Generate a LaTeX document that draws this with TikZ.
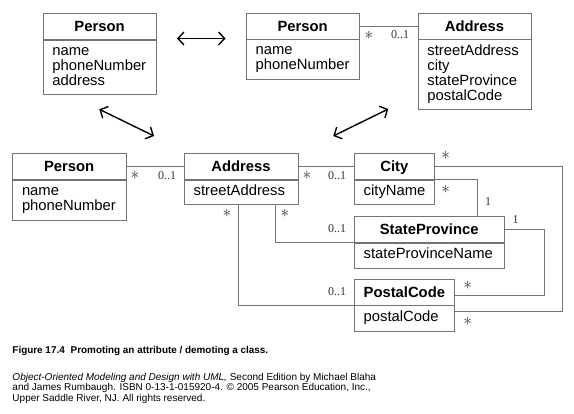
\documentclass[tikz,border=0pt]{standalone}
\usepackage{fontspec}
\setmainfont{Liberation Sans}
\newfontfamily\multfont{Liberation Serif}
\usetikzlibrary{arrows.meta}

\begin{document}
\begin{tikzpicture}[x=1pt, y=-1pt,
  head/.style = {draw=gray!90!black, anchor=north west, inner sep=0, text height=10.6, text depth=0,
                 font=\fontsize{14.8}{15}\selectfont\bfseries},
  body/.style = {draw=gray!90!black, anchor=north west, inner sep=0},
  attr/.style = {anchor=north west, inner sep=0, align=left, font=\fontsize{14.8}{15}\selectfont},
  assoc/.style = {draw=gray!90!black, line width=0.9},
  mult/.style = {inner sep=0, text=black!80, font=\multfont\fontsize{12}{12}\selectfont},
  many/.style = {mult, font=\fontsize{17}{17}\selectfont},
  swap/.style = {line width=1.4, {Straight Barb[length=6pt,width=13pt]}-{Straight Barb[length=6pt,width=13pt]}}]
\useasboundingbox (0,0) rectangle (574,414);

% before: address as an attribute
\node[head, minimum width=113.3, minimum height=26.6] (per1) at (42.7,12.7) {Person};
\node[body, minimum width=113.3, minimum height=54.7] (per1b) at (per1.south west) {};
\node[attr] (per1a) at ([xshift=9.5,yshift=-5]per1b.north west) {\vphantom{H}name\\phoneNumber\\address};

% middle: address as a class
\node[head, minimum width=113, minimum height=26] (per2) at (246,13) {Person};
\node[body, minimum width=113, minimum height=40] (per2b) at (per2.south west) {};
\node[attr] (per2a) at ([xshift=9.5,yshift=-5]per2b.north west) {\vphantom{H}name\\phoneNumber};
\node[head, minimum width=113.3, minimum height=26] (addr2) at (417.7,13) {Address};
\node[body, minimum width=113.3, minimum height=69.7] (addr2b) at (addr2.south west) {};
\node[attr] (addr2a) at ([xshift=9.5,yshift=-5]addr2b.north west) {\vphantom{H}streetAddress\\city\\stateProvince\\postalCode};
\draw[assoc] (per2.east) -- (addr2.west);
\node[many] (m1) at (369,35) {$\ast$};
\node[mult] (m2) at (400,35) {0..1};

% after: city, state and postal code promoted
\node[head, minimum width=113.4, minimum height=26.6] (per3) at (12.3,152.7) {Person};
\node[body, minimum width=113.4, minimum height=40] (per3b) at (per3.south west) {};
\node[attr] (per3a) at ([xshift=9.5,yshift=-5]per3b.north west) {\vphantom{H}name\\phoneNumber};
\node[head, minimum width=113.7, minimum height=26.6] (addr3) at (184,152.7) {Address};
\node[body, minimum width=113.7, minimum height=24.7] (addr3b) at (addr3.south west) {};
\node[attr] (addr3a) at ([xshift=9.5,yshift=-5]addr3b.north west) {\vphantom{H}streetAddress};
\node[head, minimum width=80.3, minimum height=26.6] (city) at (354,152.7) {City};
\node[body, minimum width=80.3, minimum height=24.7] (cityb) at (city.south west) {};
\node[attr] (citya) at ([xshift=9.5,yshift=-5]cityb.north west) {\vphantom{H}cityName};
\node[head, minimum width=150, minimum height=26.3] (sp) at (354,216) {StateProvince};
\node[body, minimum width=150, minimum height=25] (spb) at (sp.south west) {};
\node[attr] (spa) at ([xshift=9.5,yshift=-5]spb.north west) {\vphantom{H}stateProvinceName};
\node[head, minimum width=100.3, minimum height=25.7] (pc) at (354,279.3) {PostalCode};
\node[body, minimum width=100.3, minimum height=26] (pcb) at (pc.south west) {};
\node[attr] (pca) at ([xshift=9.5,yshift=-5]pcb.north west) {\vphantom{H}postalCode};

\draw[assoc] (per3.east) -- (addr3.west);
\draw[assoc] (addr3.east) -- (city.west);
\draw[assoc] ([xshift=-23]addr3b.south east) |- (spb.north west);
\draw[assoc] ([xshift=-3]addr3b.south) |- (pcb.north west);
\draw[assoc] (cityb.north east) -| ([xshift=-27.3]sp.north east);
\draw[assoc] (city.east) -- ++(127.4,0) |- ([yshift=-5.7]pcb.north east);
\draw[assoc] (sp.east) -- ++(40,0) |- ([yshift=-2.8]pc.east);

\node[many] (m3) at (135,175.7) {$\ast$};
\node[mult] (m4) at (167,175.7) {0..1};
\node[many] (m5) at (307,175.7) {$\ast$};
\node[mult] (m6) at (337,175.7) {0..1};
\node[many] (m7) at (227,213) {$\ast$};
\node[many] (m8) at (285,213) {$\ast$};
\node[mult] (m9) at (337,229) {0..1};
\node[mult] (m10) at (337,292) {0..1};
\node[many] (m11) at (445.7,155) {$\ast$};
\node[many] (m12) at (445.7,189) {$\ast$};
\node[mult] (m13) at (488,201.7) {1};
\node[mult] (m14) at (515.7,219.3) {1};
\node[many] (m15) at (467.7,285) {$\ast$};
\node[many] (m16) at (467.7,321.7) {$\ast$};

% equivalence arrows
\coordinate (a1) at (177,38.5);
\coordinate (a2) at (225.5,38.5);
\coordinate (b1) at (99.3,109.3);
\coordinate (b2) at (154,136);
\coordinate (c1) at (333.3,136);
\coordinate (c2) at (388.3,109);
\draw[swap] (a1) -- (a2);
\draw[swap] (b1) -- (b2);
\draw[swap] (c1) -- (c2);

% caption
\node[anchor=west, inner sep=0, font=\fontsize{9.9}{10.3}\selectfont\bfseries] (cap) at (12.3,350.7)
  {Figure 17.4\hspace{0.6em}Promoting an attribute / demoting a class.};
\node[anchor=north west, inner sep=0, align=left, font=\fontsize{10}{10.3}\selectfont] (src) at (12.3,373)
  {\textit{Object-Oriented Modeling and Design with UML,} Second Edition by Michael Blaha\\
   and James Rumbaugh. ISBN 0-13-1-015920-4. \textcopyright{} 2005 Pearson Education, Inc.,\\
   Upper Saddle River, NJ. All rights reserved.};
\end{tikzpicture}
\end{document}
